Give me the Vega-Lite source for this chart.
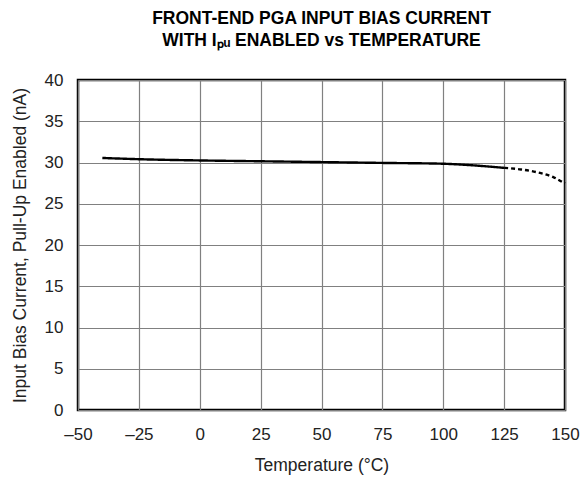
{
  "$schema": "https://vega.github.io/schema/vega-lite/v6.json",
  "width": 487,
  "height": 330,
  "autosize": {"type": "none"},
  "padding": {"left": 78, "top": 80, "right": 16, "bottom": 67},
  "background": "white",
  "title": {
    "text": ["FRONT-END PGA INPUT BIAS CURRENT", "WITH Iₚᵤ ENABLED vs TEMPERATURE"],
    "font": "Liberation Sans",
    "fontSize": 17.5,
    "fontWeight": "bold",
    "color": "black",
    "anchor": "middle",
    "lineHeight": 22,
    "offset": 22
  },
  "config": {
    "view": {"stroke": "black", "strokeWidth": 2.5},
    "axis": {
      "labelFont": "Liberation Sans",
      "titleFont": "Liberation Sans",
      "labelFontSize": 17,
      "titleFontSize": 17.5,
      "titleFontWeight": "normal",
      "labelColor": "#222",
      "titleColor": "#222",
      "labelFlush": false,
      "domain": false,
      "ticks": false,
      "tickSize": 0,
      "gridColor": "#808080",
      "gridWidth": 1.2,
      "gridOpacity": 1
    }
  },
  "data": {
    "values": [
      {"t": -40, "i": 30.55, "s": "measured"},
      {"t": -25, "i": 30.4, "s": "measured"},
      {"t": 0, "i": 30.25, "s": "measured"},
      {"t": 25, "i": 30.15, "s": "measured"},
      {"t": 50, "i": 30.05, "s": "measured"},
      {"t": 75, "i": 29.95, "s": "measured"},
      {"t": 100, "i": 29.85, "s": "measured"},
      {"t": 110, "i": 29.7, "s": "measured"},
      {"t": 125, "i": 29.35, "s": "measured"},
      {"t": 125, "i": 29.35, "s": "extrapolated"},
      {"t": 132, "i": 29.15, "s": "extrapolated"},
      {"t": 138, "i": 28.85, "s": "extrapolated"},
      {"t": 145, "i": 28.25, "s": "extrapolated"},
      {"t": 150, "i": 27.45, "s": "extrapolated"}
    ]
  },
  "mark": {"type": "line", "color": "black", "strokeWidth": 2.4, "interpolate": "monotone"},
  "encoding": {
    "x": {
      "field": "t",
      "type": "quantitative",
      "scale": {"domain": [-50, 150], "nice": false},
      "axis": {"values": [-50, -25, 0, 25, 50, 75, 100, 125, 150], "title": "Temperature (°C)", "labelPadding": 16, "titlePadding": 14, "labelOverlap": false, "labelExpr": "replace(datum.label, '−', '–')"}
    },
    "y": {
      "field": "i",
      "type": "quantitative",
      "scale": {"domain": [0, 40], "nice": false},
      "axis": {"values": [0, 5, 10, 15, 20, 25, 30, 35, 40], "title": "Input Bias Current, Pull-Up Enabled (nA)", "labelPadding": 15, "titlePadding": 15}
    },
    "strokeDash": {
      "field": "s",
      "type": "nominal",
      "scale": {"domain": ["measured", "extrapolated"], "range": [[1, 0], [4, 3]]},
      "legend": null
    }
  }
}
